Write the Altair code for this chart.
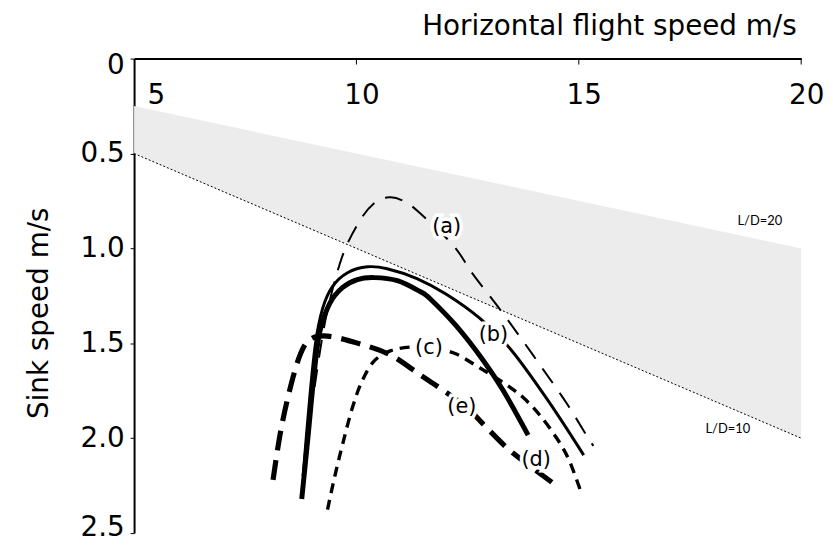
import altair as alt
import pandas as pd

# Shaded L/D band (sink = speed / (L/D))
band_speed = [5, 20]
band_ld20 = [0.25, 1.0]
band_ld10 = [0.5, 2.0]

# Curves (speed m/s, sink m/s)
a_speed = [9.06, 9.31, 9.67, 10.07, 10.42, 10.74, 11.03, 11.38, 12.17, 12.61, 13.21, 13.73, 14.22, 14.73, 15.20, 15.33]
a_sink = [1.73, 1.37, 1.05, 0.856, 0.757, 0.731, 0.747, 0.804, 0.982, 1.133, 1.316, 1.483, 1.645, 1.817, 1.995, 2.04]

b_speed = [8.80, 8.95, 9.08, 9.24, 9.46, 9.80, 10.25, 10.69, 11.36, 12.03, 12.77, 13.48, 14.31, 15.11]
b_sink = [2.20, 1.786, 1.499, 1.316, 1.201, 1.128, 1.097, 1.107, 1.159, 1.243, 1.368, 1.535, 1.802, 2.089]

c_speed = [9.35, 9.51, 9.69, 9.91, 10.13, 10.40, 10.76, 11.21, 11.65, 12.19, 12.77, 13.37, 13.75, 14.11, 14.49, 14.78, 15.07]
c_sink = [2.376, 2.204, 2.031, 1.838, 1.697, 1.593, 1.540, 1.520, 1.525, 1.551, 1.629, 1.718, 1.786, 1.875, 1.995, 2.115, 2.298]

d_speed = [8.77, 8.91, 9.04, 9.17, 9.40, 9.69, 10.02, 10.40, 10.92, 11.43, 11.65, 12.25, 12.86, 13.30, 13.86]
d_sink = [2.32, 1.995, 1.68, 1.446, 1.29, 1.206, 1.164, 1.154, 1.17, 1.227, 1.264, 1.41, 1.593, 1.749, 1.984]

e_speed = [8.125, 8.30, 8.53, 8.75, 8.97, 9.35, 10.02, 10.76, 11.43, 11.96, 12.48, 12.92, 13.44, 13.93, 14.53]
e_sink = [2.219, 1.958, 1.718, 1.551, 1.478, 1.462, 1.499, 1.561, 1.666, 1.749, 1.838, 1.943, 2.063, 2.151, 2.256]

# Curve labels
lab_text = ["(a)", "(b)", "(c)", "(d)", "(e)"]
lab_speed = [12.03, 13.08, 11.63, 14.04, 12.37]
lab_sink = [0.888, 1.457, 1.525, 2.115, 1.838]

ld_text = ["L/D=20", "L/D=10"]
ld_speed = [19.07, 18.35]
ld_sink = [0.856, 1.953]

x_ticks = [10, 15, 20]
y_ticks = [0, 0.5, 1.0, 1.5, 2.0, 2.5]

FONT = "DejaVu Sans"

xscale = alt.Scale(domain=[5, 20], nice=False, zero=False)
yscale = alt.Scale(domain=[0, 2.5], reverse=True, nice=False)

band_df = pd.DataFrame({"speed": band_speed, "sink": band_ld20, "sink2": band_ld10})

x_axis = alt.Axis(
    orient="top", values=[5, 10, 15, 20], format="d",
    title="Horizontal flight speed m/s", titleFont=FONT, titleFontSize=28,
    titleFontWeight="normal", titleColor="black", titleAlign="right",
    titleBaseline="alphabetic", titleX=667, titleY=-24, titleAngle=0,
    labelFont=FONT, labelFontSize=28, labelColor="black",
    labelBaseline="alphabetic", labelPadding=-50, labelFlush=False,
    labelOffset={"condition": {"test": "datum.value == 5", "value": 22}, "value": 5},
    tickSize=5, tickOpacity=0, grid=False,
    domainColor="black", domainWidth=2,
)
y_axis = alt.Axis(
    orient="left", values=y_ticks,
    labelExpr="datum.value == 0 ? '0' : format(datum.value, '.1f')",
    title="Sink speed m/s", titleFont=FONT, titleFontSize=28,
    titleFontWeight="normal", titleColor="black", titleAngle=270,
    titleAlign="center", titleBaseline="middle", titleX=-95, titleY=256,
    labelFont=FONT, labelFontSize=28, labelColor="black", labelPadding=6,
    labelFlush=False,
    labelOffset={"condition": [
        {"test": "datum.value == 0", "value": 7},
        {"test": "datum.value == 2.5", "value": -6},
    ], "value": 0},
    tickSize=4, tickColor="black", tickWidth=1, grid=False,
    domainColor="black", domainWidth=2,
)

band = alt.Chart(band_df).mark_area(color="#ececec", opacity=1).encode(
    x=alt.X("speed:Q", scale=xscale, axis=x_axis),
    y=alt.Y("sink:Q", scale=yscale, axis=y_axis),
    y2="sink2:Q",
)

dotted = alt.Chart(band_df).mark_line(color="black", strokeWidth=1, strokeDash=[2, 2]).encode(
    x=alt.X("speed:Q", scale=xscale),
    y=alt.Y("sink2:Q", scale=yscale),
)

def curve(sp, sk, width, dash=None):
    df = pd.DataFrame({"speed": sp, "sink": sk, "i": list(range(len(sp)))})
    kw = dict(color="black", strokeWidth=width, interpolate="cardinal", strokeCap="butt")
    if dash:
        kw["strokeDash"] = dash
    return alt.Chart(df).mark_line(**kw).encode(
        x=alt.X("speed:Q", scale=xscale),
        y=alt.Y("sink:Q", scale=yscale),
        order="i:Q",
    )

ca = curve(a_speed, a_sink, 2, [18, 12])
cb = curve(b_speed, b_sink, 3)
cc = curve(c_speed, c_sink, 3.4, [10, 7])
cd = curve(d_speed, d_sink, 5)
ce = curve(e_speed, e_sink, 5.2, [20, 10])

lab_df = pd.DataFrame({"speed": lab_speed, "sink": lab_sink, "t": lab_text})
halo = alt.Chart(lab_df).mark_text(
    font=FONT, fontSize=21, color="white", stroke="white", strokeWidth=7,
    align="center", baseline="middle",
).encode(
    x=alt.X("speed:Q", scale=xscale),
    y=alt.Y("sink:Q", scale=yscale),
    text="t:N",
)
labels = alt.Chart(lab_df).mark_text(font=FONT, fontSize=21, color="black", align="center", baseline="middle").encode(
    x=alt.X("speed:Q", scale=xscale),
    y=alt.Y("sink:Q", scale=yscale),
    text="t:N",
)

ld_df = pd.DataFrame({"speed": ld_speed, "sink": ld_sink, "t": ld_text})
ld_labels = alt.Chart(ld_df).mark_text(font="Lato", fontSize=13, color="black", align="center", baseline="middle").encode(
    x=alt.X("speed:Q", scale=xscale),
    y=alt.Y("sink:Q", scale=yscale),
    text="t:N",
)

tick_df = pd.DataFrame({"speed": x_ticks})
xticks = alt.Chart(tick_df).mark_rule(color="black", strokeWidth=1).encode(
    x=alt.X("speed:Q", scale=xscale),
    y=alt.value(0),
    y2=alt.value(6),
)

chart = alt.layer(band, dotted, ca, cb, cc, cd, ce, halo, labels, ld_labels, xticks).properties(
    width=672, height=478,
    autosize=alt.AutoSizeParams(type="none"),
    padding={"left": 127, "top": 49, "right": 24, "bottom": 7},
).configure_view(stroke=None)

chart.save("out.html", embed_options={"renderer": "svg", "actions": False})
